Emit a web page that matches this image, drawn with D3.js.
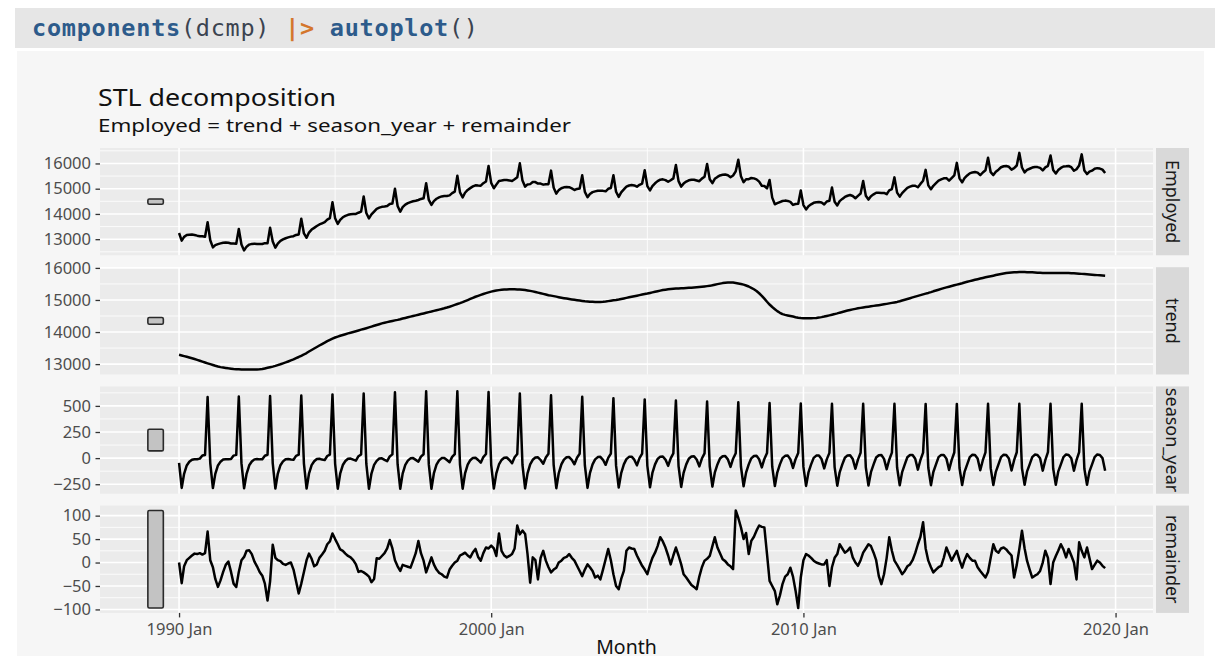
<!DOCTYPE html>
<html><head><meta charset="utf-8">
<script src="https://cdn.jsdelivr.net/npm/d3@7"></script>
<style>body{margin:0;background:#fff}svg{display:block}</style>
</head><body>
<svg id="chart" width="1215" height="662"></svg>
<script>
// ---------------- DATA (monthly, 1990 Jan – 2019 Sep) ----------------
const startYear = 1990, startMonth = 0;

const trendByYear = [
 [13290,13270,13250,13228,13205,13182,13158,13132,13105,13078,13050,13024],
 [12998,12972,12948,12925,12906,12892,12880,12868,12858,12849,12842,12838],
 [12835,12832,12830,12829,12828,12829,12831,12838,12849,12866,12884,12902],
 [12922,12945,12970,12996,13024,13052,13082,13114,13148,13185,13222,13260],
 [13300,13345,13392,13440,13487,13534,13580,13626,13670,13715,13757,13795],
 [13830,13858,13884,13909,13933,13957,13980,14003,14027,14050,14074,14097],
 [14120,14145,14170,14195,14220,14245,14270,14290,14310,14329,14346,14363],
 [14380,14400,14420,14440,14460,14480,14500,14520,14540,14560,14580,14600],
 [14620,14640,14660,14680,14700,14720,14740,14764,14790,14818,14846,14873],
 [14900,14932,14965,14998,15032,15066,15100,15130,15160,15188,15214,15238],
 [15260,15278,15294,15307,15318,15326,15330,15333,15334,15333,15330,15326],
 [15320,15310,15298,15284,15268,15250,15230,15210,15190,15170,15150,15135],
 [15120,15104,15088,15072,15057,15043,15030,15017,15005,14993,14981,14970],
 [14960,14952,14946,14942,14939,14938,14940,14945,14953,14964,14977,14988],
 [15000,15015,15031,15048,15065,15082,15100,15117,15134,15151,15168,15184],
 [15200,15218,15236,15254,15272,15291,15310,15322,15332,15341,15348,15355],
 [15360,15364,15368,15373,15378,15384,15390,15397,15405,15414,15423,15432],
 [15440,15458,15476,15494,15510,15526,15538,15546,15548,15542,15530,15516],
 [15500,15478,15452,15420,15380,15334,15280,15210,15130,15040,14944,14858],
 [14780,14712,14652,14600,14558,14536,14518,14500,14482,14464,14448,14436],
 [14430,14428,14428,14430,14434,14440,14450,14465,14482,14501,14520,14540],
 [14560,14582,14604,14626,14648,14670,14690,14707,14723,14739,14754,14768],
 [14780,14792,14804,14816,14827,14838,14850,14864,14879,14894,14909,14924],
 [14940,14962,14985,15008,15032,15056,15080,15104,15128,15152,15175,15198],
 [15220,15245,15270,15295,15320,15345,15370,15392,15414,15436,15458,15479],
 [15500,15522,15544,15566,15588,15609,15630,15649,15668,15687,15706,15723],
 [15740,15758,15776,15793,15809,15825,15840,15850,15858,15864,15868,15870],
 [15870,15870,15868,15865,15861,15856,15850,15846,15843,15841,15840,15840],
 [15840,15841,15842,15843,15843,15842,15840,15836,15831,15825,15819,15814],
 [15810,15803,15796,15789,15782,15775,15768,15762,15756]
];

const seasonByYear = [
 [-45,-285,-150,-70,-35,-15,-10,-10,-5,25,30,585],
 [-47,-287,-151,-70,-34,-14,-10,-11,-8,24,31,590],
 [-48,-289,-150,-69,-33,-12,-9,-12,-11,23,32,595],
 [-50,-291,-150,-68,-31,-10,-8,-13,-15,22,33,599],
 [-52,-292,-149,-67,-30,-8,-6,-14,-19,20,34,610],
 [-54,-293,-149,-66,-28,-6,-4,-15,-24,18,35,618],
 [-56,-294,-148,-65,-26,-4,-2,-16,-29,16,36,630],
 [-58,-294,-148,-64,-24,-2,0,-17,-34,14,37,640],
 [-60,-294,-147,-63,-22,0,2,-18,-39,12,38,640],
 [-62,-293,-147,-62,-20,2,4,-18,-44,10,39,632],
 [-64,-292,-146,-61,-18,4,6,-18,-49,8,40,618],
 [-66,-290,-146,-60,-16,6,8,-18,-54,6,41,602],
 [-68,-288,-145,-60,-14,8,10,-17,-59,4,42,588],
 [-70,-285,-144,-60,-12,10,12,-16,-64,2,43,574],
 [-72,-282,-143,-60,-10,12,14,-15,-69,0,44,562],
 [-74,-279,-142,-60,-8,14,16,-14,-74,-2,45,552],
 [-76,-276,-141,-60,-6,16,18,-13,-79,-4,46,542],
 [-78,-273,-140,-60,-4,18,20,-12,-84,-6,47,534],
 [-80,-270,-139,-60,-2,20,22,-11,-89,-8,48,527],
 [-82,-268,-138,-60,0,22,24,-10,-94,-10,49,522],
 [-84,-266,-137,-60,2,24,26,-9,-98,-12,50,520],
 [-86,-264,-136,-60,4,26,28,-8,-102,-14,51,520],
 [-88,-262,-135,-60,6,28,29,-7,-106,-16,52,520],
 [-90,-260,-134,-60,8,30,30,-6,-110,-18,53,519],
 [-92,-259,-133,-60,9,31,30,-5,-113,-19,54,519],
 [-94,-258,-132,-60,10,32,30,-4,-116,-20,55,520],
 [-96,-257,-131,-60,10,33,30,-3,-118,-20,56,520],
 [-98,-256,-130,-60,10,34,30,-2,-120,-20,57,521],
 [-100,-255,-130,-60,10,35,30,-1,-121,-20,58,521],
 [-102,-255,-130,-60,10,35,30,0,-121]
];

const remainderByYear = [
 [0,-44,-8,5,10,15,19,18,20,17,20,66],
 [5,-10,-35,-52,-38,-20,-5,2,-20,-45,-52,-20],
 [5,12,25,26,18,2,-8,-20,-28,-45,-81,-40],
 [38,10,5,3,-3,-5,-2,0,-15,-40,-66,-45],
 [-20,5,19,8,-8,-4,10,17,25,39,45,62],
 [50,39,28,25,19,14,11,5,-4,-20,-18,-21],
 [-25,-30,-42,-35,9,8,14,20,30,48,30,5],
 [-8,-18,-5,-7,-9,-11,4,20,46,20,4,-21],
 [-5,11,-4,-15,-22,-25,-30,-32,-15,-7,0,4],
 [15,18,21,15,11,22,29,12,4,20,32,30],
 [36,30,14,62,25,15,11,14,18,30,79,60],
 [68,61,18,-43,11,5,-36,10,25,4,-10,-21],
 [-15,-11,0,4,10,12,18,10,4,-7,-18,-29],
 [-15,-4,-10,-18,-32,-28,-36,-15,7,29,5,-25],
 [-50,-57,-35,-18,25,32,30,29,15,4,-7,-15],
 [-25,-5,10,21,35,54,45,32,15,-4,15,32],
 [15,-4,-25,-32,-40,-48,-52,-57,-30,-10,4,8],
 [14,35,54,32,20,7,3,-4,-8,-14,111,95],
 [75,50,63,18,46,55,68,79,76,75,18,-39],
 [-50,-61,-89,-70,-46,-30,-25,-11,-30,-60,-97,-32],
 [5,18,15,10,4,0,-2,-4,-4,5,-50,-10],
 [10,18,39,30,21,25,32,11,0,-7,5,21],
 [30,39,35,21,5,-29,-46,-25,10,54,25,4],
 [-5,-15,-25,-18,-8,-4,5,20,39,55,86,30],
 [4,-10,-21,-15,-10,-7,10,32,18,4,15,25],
 [5,-11,5,18,10,4,4,-10,-18,-25,-32,-20],
 [10,39,25,21,30,32,28,21,15,-32,-5,29],
 [68,30,4,-15,-32,-28,-25,-18,0,25,10,-46],
 [0,14,25,39,28,11,29,15,0,-36,43,25],
 [11,32,10,-14,-5,4,0,-7,-12]
];

const trend = trendByYear.flat();
const seasonYear = seasonByYear.flat();
const remainder = remainderByYear.flat();
// Employed = trend + season_year + remainder (as stated in the subtitle)
const employed = trend.map((t, i) => t + seasonYear[i] + remainder[i]);

const employedTicks = [13000, 14000, 15000, 16000];
const trendTicks = [13000, 14000, 15000, 16000];
const seasonTicks = [-250, 0, 250, 500];
const remainderTicks = [-100, -50, 0, 50, 100];
const xTickYears = [1990, 2000, 2010, 2020];
const xTickLabels = ["1990 Jan", "2000 Jan", "2010 Jan", "2020 Jan"];
const xMinorYears = [1985, 1995, 2005, 2015];
const facetNames = ["Employed", "trend", "season_year", "remainder"];

const titleText = "STL decomposition";
const subtitleText = "Employed = trend + season_year + remainder";
const xTitle = "Month";

// ---------------- LAYOUT ----------------
const svg = d3.select("#chart");
const W = 1215, H = 662;
const FONT = "'Noto Sans', 'Open Sans', sans-serif";
const pL = 100, pR = 1153, top0 = 148, pitch = 119.2, pH = 107.3;
const stripX = 1156, stripW = 33;

svg.append("rect").attr("width", W).attr("height", H).attr("fill", "#ffffff");
svg.append("rect").attr("x", 17).attr("y", 51).attr("width", 1187).attr("height", 605).attr("fill", "#f6f6f6");

// code header
svg.append("rect").attr("x", 15).attr("y", 8).attr("width", 1200).attr("height", 40).attr("fill", "#e6e6e6");
const code = svg.append("text").attr("x", 32).attr("y", 35.5)
  .attr("font-family", "'DejaVu Sans Mono', monospace").attr("font-size", 23.5)
  .attr("textLength", 446).attr("lengthAdjust", "spacing").attr("style", "white-space:pre");
[["components", "#2d5b8b", "bold"], ["(dcmp) ", "#3b4350", "normal"], ["|>", "#d4762c", "bold"],
 [" ", "#3b4350", "normal"], ["autoplot", "#2d5b8b", "bold"], ["()", "#3b4350", "normal"]]
 .forEach(([t, c, w]) => code.append("tspan").text(t).attr("fill", c).attr("font-weight", w));

// titles
svg.append("text").attr("x", 98).attr("y", 105.5).attr("font-family", FONT).attr("font-size", 23.5)
  .attr("fill", "#111").attr("textLength", 238).attr("lengthAdjust", "spacingAndGlyphs").text(titleText);
svg.append("text").attr("x", 98).attr("y", 132).attr("font-family", FONT).attr("font-size", 18)
  .attr("fill", "#111").attr("textLength", 473).attr("lengthAdjust", "spacingAndGlyphs").text(subtitleText);

// ---------------- SCALES ----------------
const n = trend.length;
const months = d3.range(n).map(i => new Date(startYear, startMonth + i, 1));
const barStart = new Date(startYear - 1, 0, 1), barEnd = new Date(startYear - 1, 6, 1);
const xLo = +barStart, xHi = +months[n - 1];
const xPad = (xHi - xLo) * 0.05;
const x = d3.scaleTime().domain([new Date(xLo - xPad), new Date(xHi + xPad)]).range([pL, pR]);

const series = [employed, trend, seasonYear, remainder];
const tickSets = [employedTicks, trendTicks, seasonTicks, remainderTicks];
const extents = series.map(s => d3.extent(s));
const barH = d3.min(extents, e => e[1] - e[0]);

const line = d3.line().x((d, i) => x(months[i])).y(d => d);

series.forEach((vals, k) => {
  const top = top0 + k * pitch, bot = top + pH;
  const e = extents[k], mid = (e[0] + e[1]) / 2;
  const bLo = mid - barH / 2, bHi = mid + barH / 2;
  const lo = Math.min(e[0], bLo), hi = Math.max(e[1], bHi);
  const pad = (hi - lo) * 0.05;
  const y = d3.scaleLinear().domain([lo - pad, hi + pad]).range([bot, top]);
  const g = svg.append("g");

  g.append("rect").attr("x", pL).attr("y", top).attr("width", pR - pL).attr("height", pH).attr("fill", "#ebebeb");

  const ticks = tickSets[k], step = ticks[1] - ticks[0];
  const minor = d3.range(ticks[0] - step / 2, ticks[ticks.length - 1] + step, step)
    .filter(v => v > lo - pad && v < hi + pad);
  g.selectAll(".hmin").data(minor).join("line").attr("x1", pL).attr("x2", pR)
    .attr("y1", d => y(d)).attr("y2", d => y(d)).attr("stroke", "#fff").attr("stroke-width", 0.8);
  g.selectAll(".vmin").data(xMinorYears.map(yy => new Date(yy, 0, 1)).filter(d => x(d) > pL && x(d) < pR))
    .join("line").attr("x1", d => x(d)).attr("x2", d => x(d)).attr("y1", top).attr("y2", bot)
    .attr("stroke", "#fff").attr("stroke-width", 0.8);
  g.selectAll(".hmaj").data(ticks).join("line").attr("x1", pL).attr("x2", pR)
    .attr("y1", d => y(d)).attr("y2", d => y(d)).attr("stroke", "#fff").attr("stroke-width", 1.6);
  g.selectAll(".vmaj").data(xTickYears.map(yy => new Date(yy, 0, 1)))
    .join("line").attr("x1", d => x(d)).attr("x2", d => x(d)).attr("y1", top).attr("y2", bot)
    .attr("stroke", "#fff").attr("stroke-width", 1.6);

  // scale bar
  g.append("rect").attr("x", x(barStart)).attr("width", x(barEnd) - x(barStart))
    .attr("y", y(bHi)).attr("height", y(bLo) - y(bHi))
    .attr("rx", 1.5).attr("fill", "#c3c3c3").attr("stroke", "#2a2a2a").attr("stroke-width", 1.6);

  // series line
  g.append("path").attr("d", line(vals.map(v => y(v)))).attr("fill", "none")
    .attr("stroke", "#000").attr("stroke-width", 2.5).attr("stroke-linejoin", "round");

  // y axis
  const ax = g.append("g").attr("transform", `translate(${pL},0)`)
    .call(d3.axisLeft(y).tickValues(ticks).tickSize(4.5).tickPadding(4.5).tickFormat(d3.format("d")));
  ax.select(".domain").remove();
  ax.selectAll(".tick line").attr("stroke", "#333").attr("stroke-width", 1.3);
  ax.selectAll(".tick text").attr("font-family", FONT).attr("font-size", 16.5).attr("fill", "#4d4d4d");

  // strip
  g.append("rect").attr("x", stripX).attr("y", top).attr("width", stripW).attr("height", pH).attr("fill", "#d9d9d9");
  g.append("text").attr("transform", `translate(${stripX + stripW / 2},${top + pH / 2}) rotate(90)`)
    .attr("text-anchor", "middle").attr("dominant-baseline", "central")
    .attr("font-family", FONT).attr("font-size", 18).attr("fill", "#1a1a1a").text(facetNames[k]);

  if (k === series.length - 1) {
    const xa = svg.append("g").attr("transform", `translate(0,${bot})`)
      .call(d3.axisBottom(x).tickValues(xTickYears.map(yy => new Date(yy, 0, 1)))
        .tickFormat((d, i) => xTickLabels[i]).tickSize(4.5).tickPadding(6));
    xa.select(".domain").remove();
    xa.selectAll(".tick line").attr("stroke", "#333").attr("stroke-width", 1.3);
    xa.selectAll(".tick text").attr("font-family", FONT).attr("font-size", 16.5).attr("fill", "#4d4d4d");
  }
});

svg.append("text").attr("x", (pL + pR) / 2).attr("y", 654).attr("text-anchor", "middle")
  .attr("font-family", FONT).attr("font-size", 19.5).attr("fill", "#111").text(xTitle);
</script>
</body></html>
